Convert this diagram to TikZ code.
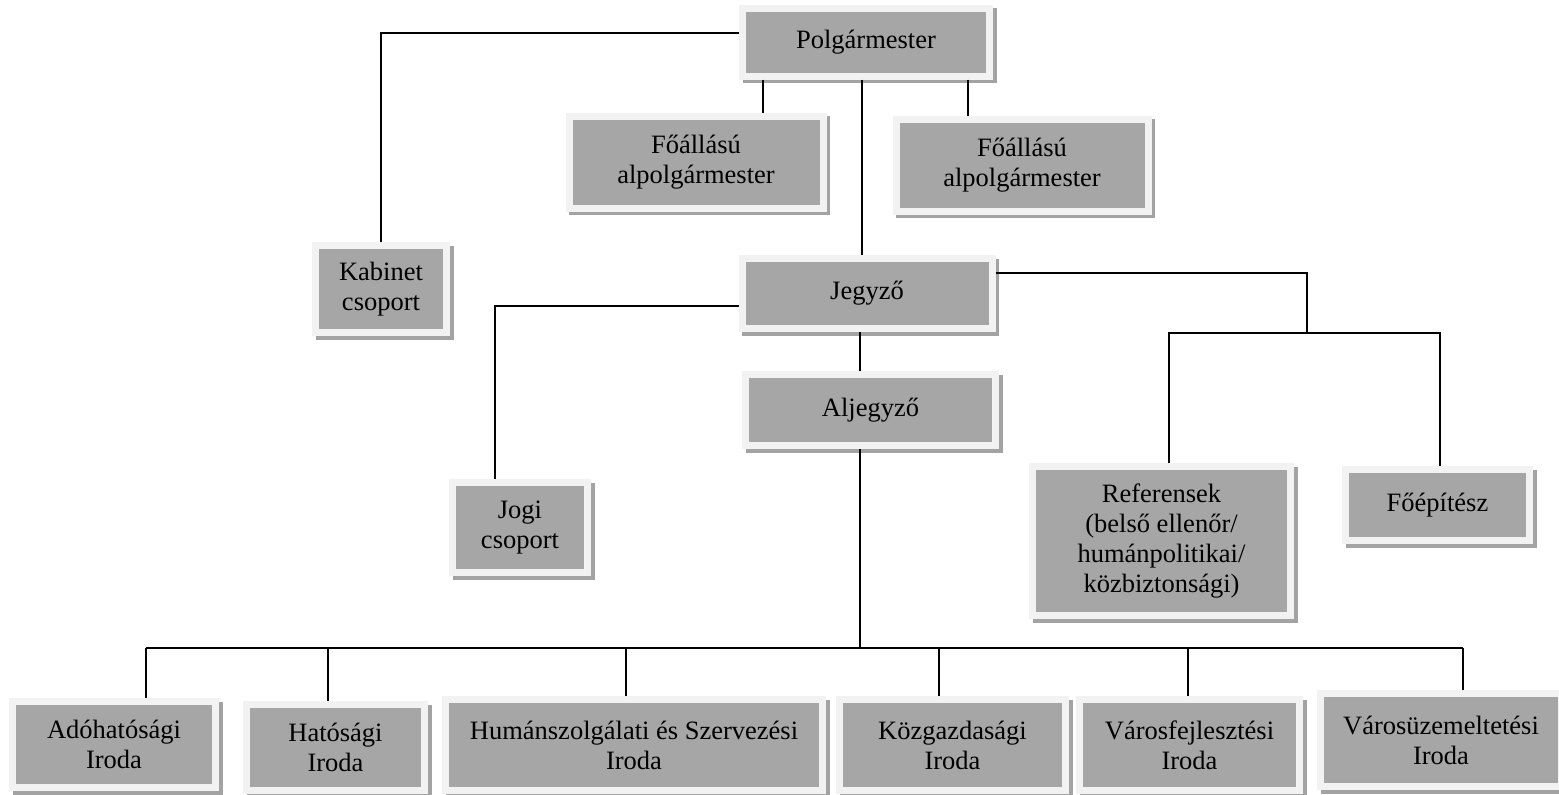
\documentclass[tikz,border=0pt]{standalone}
\usepackage{fontspec}
\setmainfont{Liberation Serif}
\definecolor{boxfill}{HTML}{A6A6A6}
\definecolor{boxrim}{HTML}{F2F2F2}
\definecolor{boxshadow}{HTML}{A3A3A3}
\tikzset{
  orgbox/.style={rectangle, inner sep=0pt, align=center, fill=boxfill,
    draw=boxrim, line width=7pt, font=\fontsize{26.5}{30}\selectfont,
    preaction={draw=boxshadow, fill=boxshadow, line width=7pt,
      transform canvas={shift={(3.5pt,-3.5pt)}}}},
  link/.style={line width=1.8pt, draw=black},
}
\begin{document}
\begin{tikzpicture}[x=1pt,y=-1pt]
\useasboundingbox (0,0) rectangle (1559,795);
\node[orgbox, minimum width=247pt, minimum height=68pt] (polg) at (866,42) {Polgármester};
\node[orgbox, minimum width=254pt, minimum height=92pt] (fo1) at (696,162) {Főállású\\alpolgármester};
\node[orgbox, minimum width=252pt, minimum height=92pt] (fo2) at (1022,165) {Főállású\\alpolgármester};
\node[orgbox, minimum width=131pt, minimum height=87pt] (kab) at (381,289) {Kabinet\\csoport};
\node[orgbox, minimum width=250pt, minimum height=70pt] (jegy) at (867,293.5) {Jegyző};
\node[orgbox, minimum width=250pt, minimum height=71pt] (alj) at (870.5,410) {Aljegyző};
\node[orgbox, minimum width=135pt, minimum height=90pt] (jogi) at (520,527.5) {Jogi\\csoport};
\node[orgbox, minimum width=258pt, minimum height=149pt] (ref) at (1161.5,541) {Referensek\\(belső ellenőr/\\humánpolitikai/\\közbiztonsági)};
\node[orgbox, minimum width=184pt, minimum height=71pt] (foep) at (1437.5,505) {Főépítész};
\node[orgbox, minimum width=203pt, minimum height=86pt] (ado) at (114,744.5) {Adóhatósági\\Iroda};
\node[orgbox, minimum width=178pt, minimum height=86pt] (hat) at (335.5,747.5) {Hatósági\\Iroda};
\node[orgbox, minimum width=377pt, minimum height=91pt] (hum) at (634,745) {Humánszolgálati és Szervezési\\Iroda};
\node[orgbox, minimum width=226pt, minimum height=91pt] (kozg) at (952.5,745) {Közgazdasági\\Iroda};
\node[orgbox, minimum width=220pt, minimum height=91pt] (varf) at (1189.5,745) {Városfejlesztési\\Iroda};
\node[orgbox, minimum width=241pt, minimum height=93pt] (varu) at (1441,740) {Városüzemeltetési\\Iroda};

\coordinate (rsplit) at (1307,333);
\coordinate (bsplit) at (860,648);

\draw[link] ([yshift=9pt]polg.west) -| (kab.north);
\draw[link] ([xshift=-103pt]polg.south) -- ([xshift=-103pt]polg.south |- fo1.north);
\draw[link] ([xshift=102pt]polg.south) -- ([xshift=102pt]polg.south |- fo2.north);
\draw[link] ([xshift=-4pt]polg.south) -- ([xshift=-4pt]polg.south |- jegy.north);
\draw[link] ([yshift=-12.5pt]jegy.west) -| ([xshift=-25pt]jogi.north);
\draw[link] ([xshift=-7pt]jegy.south) -- ([xshift=-7pt]jegy.south |- alj.north);
\draw[link] ([yshift=20.5pt]jegy.east) -| (rsplit);
\draw[link] ([xshift=7.5pt]ref.north) -- ([xshift=7.5pt]ref.north |- rsplit)
  -- ([xshift=2.5pt]foep.north |- rsplit) -- ([xshift=2.5pt]foep.north);
\draw[link] ([xshift=-10.5pt]alj.south) -- (bsplit);
\draw[link] ([xshift=32pt]ado.north |- bsplit) -- ([xshift=22pt]varu.north |- bsplit);
\foreach \n/\dx in {ado/32pt,hat/-7.5pt,hum/-8pt,kozg/-13.5pt,varf/-1.5pt,varu/22pt}
  \draw[link] ([xshift=\dx]\n.north) -- ([xshift=\dx]\n.north |- bsplit);
\end{tikzpicture}
\end{document}
